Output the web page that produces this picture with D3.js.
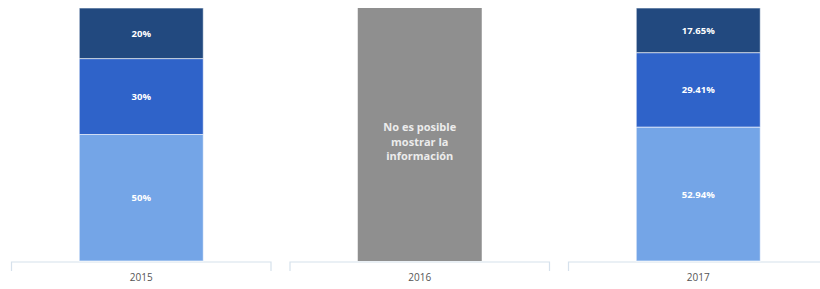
<!DOCTYPE html>
<html>
<head>
<meta charset="utf-8">
<script src="https://cdn.jsdelivr.net/npm/d3@7"></script>
<style>
  body { margin: 0; background: #fff; }
  text { font-family: "Open Sans", "DejaVu Sans", sans-serif; }
</style>
</head>
<body>
<script>
"use strict";

const years = ["2015", "2016", "2017"];
// share per segment, bottom to top; null = no data for that year
const bajo  = [50, null, 52.94];
const medio = [30, null, 29.41];
const alto  = [20, null, 17.65];
const labels = [["50%", "30%", "20%"], null, ["52.94%", "29.41%", "17.65%"]];
const noDataText = ["No es posible", "mostrar la", "información"];

const colors = ["#74a5e7", "#2f63c9", "#22497f"];

let width = 820, height = 289;
let svg = d3.select("body").append("svg").attr("width", width).attr("height", height);

let x = d3.scaleBand().domain(years).range([2, 837.5]).paddingInner(0).paddingOuter(0);
let y = d3.scaleLinear().domain([0, 100]).range([261, 8]);

let barW = 124;

// axis brackets, one per category
let axis = svg.append("g");
years.forEach(yr => {
    let x0 = x(yr) + 9.5, x1 = x(yr) + x.bandwidth() - 9.5;
    axis.append("path")
        .attr("d", `M${x0},271V262H${x1}V271`)
        .attr("fill", "none")
        .attr("stroke", "#d6e1ec")
        .attr("stroke-width", 1.2);
    axis.append("text")
        .attr("x", x(yr) + x.bandwidth() / 2)
        .attr("y", 281)
        .attr("text-anchor", "middle")
        .attr("font-size", 10)
        .attr("fill", "#555")
        .text(yr);
});

let bars = svg.append("g");
years.forEach((yr, i) => {
    let cx = x(yr) + x.bandwidth() / 2;
    if (bajo[i] === null) {
        bars.append("rect")
            .attr("x", cx - barW / 2).attr("width", barW)
            .attr("y", y(100)).attr("height", y(0) - y(100))
            .attr("fill", "#8f8f8f");
        let t = bars.append("text")
            .attr("text-anchor", "middle")
            .attr("font-size", 11)
            .attr("font-weight", "bold")
            .attr("fill", "#ececec");
        noDataText.forEach((line, k) => {
            t.append("tspan").attr("x", cx).attr("y", 131 + k * 14.5).text(line);
        });
        return;
    }
    let vals = [bajo[i], medio[i], alto[i]];
    let base = 0;
    vals.forEach((v, k) => {
        let top = base + v;
        bars.append("rect")
            .attr("x", cx - barW / 2).attr("width", barW)
            .attr("y", y(top)).attr("height", y(base) - y(top))
            .attr("fill", colors[k])
            .attr("stroke", "#fff")
            .attr("stroke-opacity", 0.6)
            .attr("stroke-width", 1);
        bars.append("text")
            .attr("x", cx)
            .attr("y", (y(base) + y(top)) / 2 + 3.5)
            .attr("text-anchor", "middle")
            .attr("font-size", 9.5)
            .attr("font-weight", "bold")
            .attr("fill", "#fff")
            .text(labels[i][k]);
        base = top;
    });
});
</script>
</body>
</html>
